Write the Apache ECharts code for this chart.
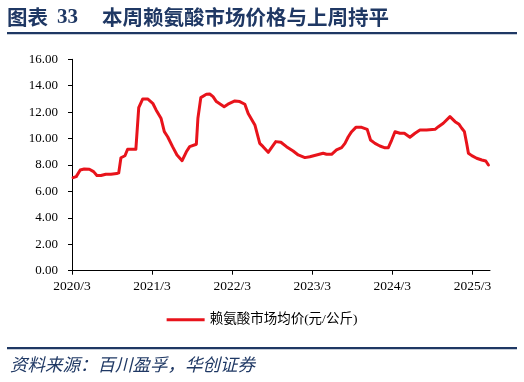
<!DOCTYPE html>
<html><head><meta charset="utf-8">
<script src="https://cdn.jsdelivr.net/npm/echarts@6/dist/echarts.min.js"></script>
<style>html,body{margin:0;padding:0;background:#fff}#c{width:524px;height:382px}</style>
</head><body><div id="c"></div>
<script>
// Weekly-ish price samples (元/公斤)
const dates = ['2020-03-06','2020-03-20','2020-04-08','2020-04-26','2020-05-19','2020-06-08','2020-06-23','2020-07-11','2020-08-03','2020-08-26','2020-09-22','2020-10-01','2020-10-11','2020-10-29','2020-11-11','2020-12-18','2020-12-26','2021-01-01','2021-01-09','2021-01-19','2021-02-11','2021-03-04','2021-03-19','2021-04-11','2021-04-26','2021-05-11','2021-06-03','2021-06-23','2021-06-28','2021-07-16','2021-08-05','2021-08-20','2021-09-20','2021-09-27','2021-10-10','2021-11-05','2021-11-20','2021-12-05','2021-12-20','2022-01-25','2022-02-12','2022-03-13','2022-04-05','2022-04-28','2022-05-13','2022-06-13','2022-07-05','2022-07-20','2022-08-13','2022-09-01','2022-09-17','2022-10-10','2022-11-05','2022-12-05','2022-12-28','2023-01-28','2023-02-20','2023-03-20','2023-04-20','2023-05-05','2023-05-28','2023-06-20','2023-07-13','2023-07-28','2023-08-13','2023-08-28','2023-09-17','2023-10-13','2023-11-08','2023-11-23','2023-12-13','2024-01-05','2024-01-28','2024-02-13','2024-02-28','2024-03-13','2024-04-05','2024-04-25','2024-05-20','2024-06-13','2024-07-05','2024-08-05','2024-09-13','2024-09-28','2024-10-20','2024-11-20','2024-12-13','2025-01-01','2025-01-13','2025-01-25','2025-02-05','2025-02-13','2025-02-28','2025-03-20','2025-04-13','2025-05-01','2025-05-13'];
const prices = [7.04,7.12,7.62,7.70,7.68,7.50,7.20,7.20,7.30,7.30,7.35,7.40,8.55,8.70,9.19,9.19,9.30,12.34,12.49,13.00,13.00,12.67,12.17,11.54,10.52,10.14,9.39,8.76,8.63,8.33,9.00,9.39,9.57,11.54,13.10,13.35,13.37,13.17,12.80,12.41,12.60,12.85,12.80,12.60,11.90,11.03,9.64,9.39,8.96,9.39,9.77,9.72,9.39,9.06,8.76,8.56,8.63,8.76,8.89,8.81,8.81,9.14,9.31,9.64,10.14,10.52,10.85,10.85,10.70,9.89,9.64,9.44,9.30,9.31,9.89,10.52,10.40,10.40,10.10,10.40,10.65,10.65,10.70,10.90,11.16,11.66,11.28,11.08,10.78,10.52,9.64,8.89,8.71,8.51,8.38,8.30,8.00];
const xTickLabels = ['2020/3','2021/3','2022/3','2023/3','2024/3','2025/3'];
const yTicks = [0,2,4,6,8,10,12,14,16];
const seriesName = '赖氨酸市场均价(元/公斤)';
const titleNum = '33';
const titleText = '本周赖氨酸市场价格与上周持平';
const sourceText = '资料来源：百川盈孚，华创证券';

// months elapsed since 2020-03-01
function monthsOf(s){const [y,m,d]=s.split('-').map(Number);return (y-2020)*12+(m-3)+(d-1)/30;}
const seriesData = dates.map((d,i)=>[monthsOf(d),prices[i]]);
const tickVals = xTickLabels.map(t=>{const [y,m]=t.split('/').map(Number);return (y-2020)*12+(m-3);});
const xMax = monthsOf('2025-05-20');

const navy = '#1F3864';
const chart = echarts.init(document.getElementById('c'),null,{renderer:'canvas'});
chart.setOption({
  backgroundColor:'#fff',
  animation:false,
  grid:{left:72,right:34,top:59.3,bottom:111.3,containLabel:false},
  xAxis:{type:'value',min:0,max:xMax,
    axisLine:{lineStyle:{color:'#000',width:1}},
    axisTick:{show:true,length:4,lineStyle:{color:'#000'},customValues:tickVals},
    axisLabel:{customValues:tickVals,margin:9,color:'#000',fontSize:13.5,fontFamily:'Liberation Serif',
      formatter:v=>{const i=tickVals.findIndex(t=>Math.abs(t-v)<1e-6);return i>=0?xTickLabels[i]:'';}},
    splitLine:{show:false}},
  yAxis:{type:'value',min:0,max:16,interval:2,
    axisLine:{show:true,lineStyle:{color:'#000',width:1}},
    axisTick:{show:true,length:4,lineStyle:{color:'#000'}},
    axisLabel:{margin:14,color:'#000',fontSize:13,fontFamily:'Liberation Serif',formatter:v=>v.toFixed(2)},
    splitLine:{show:false}},
  legend:{show:true,left:'center',top:308,itemWidth:38,itemHeight:3,itemGap:10,
    data:[{name:seriesName,icon:'rect'}],
    textStyle:{fontSize:13.5,color:'#000',fontFamily:'Liberation Serif, Noto Sans CJK SC'}},
  series:[{name:seriesName,type:'line',data:seriesData,showSymbol:false,symbol:'none',
    lineStyle:{color:'#E8131B',width:3,join:'round',cap:'round'},itemStyle:{color:'#E8131B'}}],
  graphic:[
    {type:'text',left:7,top:7,style:{text:'图表',fill:navy,font:'bold 20.5px "Noto Sans CJK SC"'}},
    {type:'text',left:57,top:7,style:{text:titleNum,fill:navy,font:'bold 21px "Liberation Serif"'}},
    {type:'text',left:102,top:7,style:{text:titleText,fill:navy,font:'bold 20.5px "Noto Sans CJK SC"'}},
    {type:'rect',shape:{x:7,y:32,width:510,height:2.3},style:{fill:navy}},
    {type:'rect',shape:{x:7,y:347,width:510,height:2.3},style:{fill:navy}},
    {type:'text',left:10,top:356,style:{text:sourceText,fill:navy,font:'italic 17.5px "Noto Sans CJK SC"'}}
  ]
});
</script></body></html>
